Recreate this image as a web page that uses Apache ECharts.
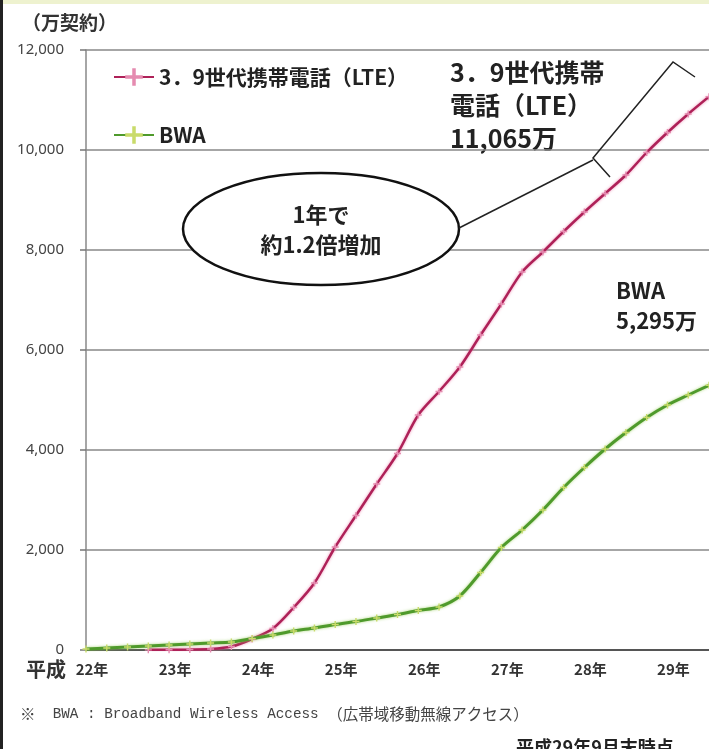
<!DOCTYPE html>
<html>
<head>
<meta charset="utf-8">
<script src="https://cdn.jsdelivr.net/npm/echarts@6/dist/echarts.min.js"></script>
<style>
html,body{margin:0;padding:0;background:#fff;}
#chart{width:709px;height:749px;}
</style>
</head>
<body>
<div id="chart"></div>
<script>
// Quarter-end categories (平成 year . month)
const categories = ['22.3','22.6','22.9','22.12','23.3','23.6','23.9','23.12','24.3','24.6','24.9','24.12','25.3','25.6','25.9','25.12','26.3','26.6','26.9','26.12','27.3','27.6','27.9','27.12','28.3','28.6','28.9','28.12','29.3','29.6','29.9'];
// 3.9世代携帯電話(LTE) contracts (万)
const lteValues = [null,null,null,3,5,10,20,70,220,430,850,1340,2060,2690,3320,3930,4700,5170,5660,6300,6920,7560,7960,8370,8760,9130,9500,9950,10350,10720,11065];
// BWA contracts (万)
const bwaValues = [20,40,60,80,100,120,140,160,230,300,380,440,510,570,640,710,790,860,1080,1550,2050,2400,2800,3250,3650,4020,4350,4650,4900,5100,5295];
const seriesNames = ['3．9世代携帯電話（LTE）','BWA'];
const yTicks = [0,2000,4000,6000,8000,10000,12000];

const plus = 'path://M4,0H6V4H10V6H6V10H4V6H0V4H4Z';
const JP = '"Noto Sans CJK JP", "Noto Sans", sans-serif';

const chart = echarts.init(document.getElementById('chart'), null, {renderer:'canvas'});
chart.setOption({
  animation:false,
  backgroundColor:'#ffffff',
  grid:{left:86,right:0,top:50,bottom:99,containLabel:false},
  legend:{
    orient:'vertical', left:108, top:61, itemWidth:40, itemHeight:22, itemGap:36,
    data:seriesNames,
    textStyle:{fontFamily:JP,fontSize:21,fontWeight:'bold',color:'#222',lineHeight:22}
  },
  xAxis:{
    type:'category', data:categories, boundaryGap:false,
    axisLine:{lineStyle:{color:'#555',width:2}},
    axisTick:{show:false},
    axisLabel:{interval:3, margin:12, padding:[0,0,0,12],
      formatter:function(v){return v.split('.')[0]+'年';},
      fontFamily:JP,fontSize:15,fontWeight:'bold',color:'#333'}
  },
  yAxis:{
    type:'value', min:yTicks[0], max:yTicks[yTicks.length-1], interval:2000,
    axisLine:{show:true,lineStyle:{color:'#888',width:1.5}},
    axisTick:{show:true,length:6,lineStyle:{color:'#777',width:1.5}},
    axisLabel:{margin:22,fontFamily:'"Noto Sans", sans-serif',fontSize:15,color:'#444',
      formatter:function(v){return v.toLocaleString('en-US');}},
    splitLine:{lineStyle:{color:'#888',width:1.5}}
  },
  series:[
    {name:seriesNames[0],type:'line',data:lteValues,smooth:0.3,
     symbol:plus,symbolSize:7,showSymbol:true,
     itemStyle:{color:'#e58bb0'},
     lineStyle:{color:'#ae2158',width:2.5,shadowColor:'rgba(235,120,165,0.8)',shadowBlur:3}},
    {name:seriesNames[1],type:'line',data:bwaValues,smooth:0.3,
     symbol:plus,symbolSize:7,showSymbol:true,
     itemStyle:{color:'#c9db6a'},
     lineStyle:{color:'#4f9a2c',width:3,shadowColor:'rgba(150,205,90,0.8)',shadowBlur:3}}
  ],
  graphic:[
    {type:'rect',left:0,top:0,shape:{width:709,height:4},style:{fill:'#eef2cf'},silent:true},
    {type:'rect',left:0,top:0,shape:{width:3,height:749},style:{fill:'#222'},silent:true},
    {type:'text',left:22,top:13,style:{text:'（万契約）',fontFamily:JP,fontSize:19,fontWeight:'bold',fill:'#333'}},
    {type:'text',left:26,top:659,style:{text:'平成',fontFamily:JP,fontSize:20,fontWeight:'bold',fill:'#333'}},
    {type:'text',left:450,top:56,style:{text:'3．9世代携帯\n電話（LTE）\n11,065万',fontFamily:JP,fontSize:25,fontWeight:'bold',fill:'#222',lineHeight:33}},
    {type:'text',left:616,top:276,style:{text:'BWA\n5,295万',fontFamily:JP,fontSize:22,fontWeight:'bold',fill:'#222',lineHeight:30}},
    {type:'ellipse',shape:{cx:321,cy:229,rx:138,ry:56},style:{fill:'#fff',stroke:'#111',lineWidth:2.5},z:10},
    {type:'text',x:321,y:215,style:{text:'1年で',fontFamily:JP,fontSize:22,fontWeight:'bold',fill:'#222',align:'center',verticalAlign:'middle'},z:11},
    {type:'text',x:321,y:245,style:{text:'約1.2倍増加',fontFamily:JP,fontSize:22,fontWeight:'bold',fill:'#222',align:'center',verticalAlign:'middle'},z:11},
    {type:'polyline',shape:{points:[[459,228],[593,160]]},style:{stroke:'#222',lineWidth:1.5,fill:null},z:10},
    {type:'polyline',shape:{points:[[610,177],[593,158],[673,62],[695,77]]},style:{stroke:'#222',lineWidth:1.5,fill:null},z:10},
    {type:'text',left:20,top:706,style:{rich:{
        a:{fontFamily:'"Liberation Mono", monospace',fontSize:14.3,fill:'#444'},
        b:{fontFamily:JP,fontSize:15.5,fill:'#444'}},
      text:'{b|※}{a|  BWA : Broadband Wireless Access }{b|（広帯域移動無線アクセス）}'}},
    {type:'text',left:516,top:738,style:{text:'平成29年9月末時点',fontFamily:JP,fontSize:18,fontWeight:'bold',fill:'#222'}}
  ]
});
</script>
</body>
</html>
